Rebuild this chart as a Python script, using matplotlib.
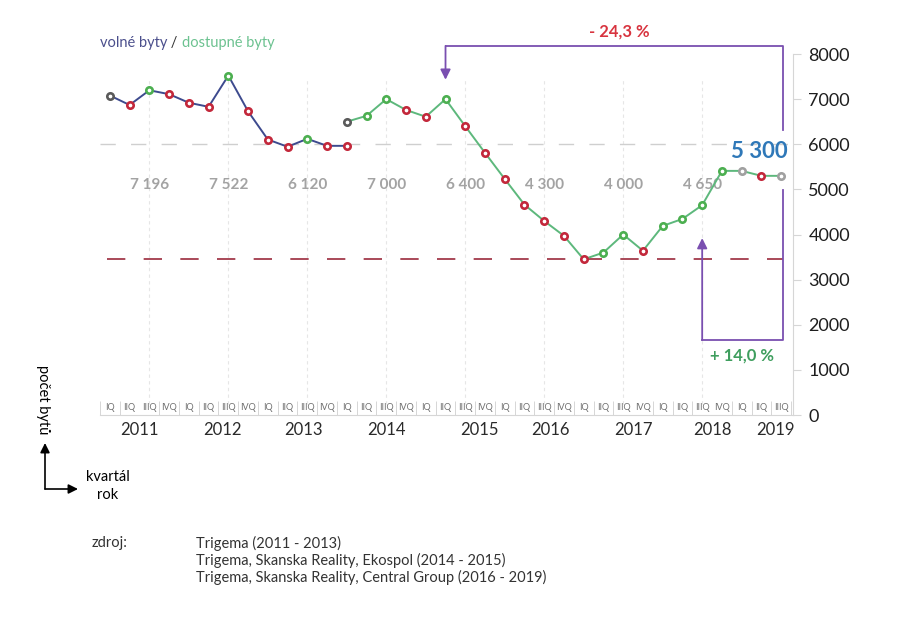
import numpy as np
import matplotlib
matplotlib.use("Agg")
import matplotlib.pyplot as plt

plt.rcParams['font.family'] = ['Lato', 'DejaVu Sans']

# data
years = ['2011', '2012', '2013', '2014', '2015', '2016', '2017', '2018', '2019']
quarters = ['IQ', 'IIQ', 'IIIQ', 'IVQ']

# volne byty, 2011 IQ - 2014 IQ
volne = [7080, 6870, 7196, 7110, 6920, 6830, 7522, 6730, 6105, 5945, 6120, 5965, 5965]
volne_marks = ['k', 'r', 'g', 'r', 'r', 'r', 'g', 'r', 'r', 'r', 'g', 'r', 'r']

# dostupne byty, 2014 IQ - 2019 IIIQ
dostupne = [6500, 6630, 7000, 6760, 6610, 7000, 6400, 5810,
            5230, 4660, 4300, 3970, 3450, 3600, 4000, 3640,
            4190, 4345, 4650, 5410, 5410, 5300, 5300]
dostupne_marks = ['k', 'g', 'g', 'r', 'r', 'g', 'r', 'r',
                  'r', 'r', 'r', 'r', 'r', 'g', 'g', 'r',
                  'g', 'g', 'g', 'g', 's', 'r', 's']

value_labels = ['7 196', '7 522', '6 120', '7 000', '6 400', '4 300', '4 000', '4 650']
last_value = '5 300'
drop_text = '- 24,3 %'
rise_text = '+ 14,0 %'
sources = ['Trigema (2011 - 2013)',
           'Trigema, Skanska Reality, Ekospol (2014 - 2015)',
           'Trigema, Skanska Reality, Central Group (2016 - 2019)']

# colours
navy = '#3d4a8e'
green_line = '#5db87c'
mark_col = {'k': '#5a5a5a', 'r': '#c3283b', 'g': '#4caf50', 's': '#a0a0a0'}
purple = '#7a4fb0'
grid_grey = '#d6d6d6'

fig = plt.figure(figsize=(9.02, 6.18), dpi=100)
W, H = 902, 618
ax = fig.add_axes([100 / W, (H - 415) / H, 693 / W, 385 / H])

n_q = len(years) * 4 - 1
x_all = np.arange(n_q)
x_v = x_all[:len(volne)]
x_d = x_all[12:12 + len(dostupne)]

ax.set_xlim(-0.4, 34.6)
ax.set_ylim(0, 8532)

# reference lines
ax.axhline(6000, color='#cfcfcf', lw=1.0, dashes=(11, 11), zorder=1)
ax.axhline(min(dostupne), color='#9b2a3c', lw=1.2, dashes=(11, 11), xmin=0.01, xmax=0.985, zorder=1)
for i in range(len(value_labels)):
    xi = 2 + 4 * i
    ax.plot([xi, xi], [250, 7450], color='#e6e6e6', lw=0.8, dashes=(3, 3), zorder=0)
    ax.text(xi, 5100, value_labels[i], ha='center', va='center', fontsize=11,
            fontweight='bold', color='#a3a3a3')

# series
ax.plot(x_v, volne, color=navy, lw=1.4, zorder=3)
ax.plot(x_d, dostupne, color=green_line, lw=1.4, zorder=3)
for xs, ys, ms in [(x_v, volne, volne_marks), (x_d, dostupne, dostupne_marks)]:
    for xx, yy, m in zip(xs, ys, ms):
        ax.plot(xx, yy, 'o', ms=4.6, mfc='white', mec=mark_col[m], mew=1.9, zorder=4)

# brackets
peak_x = 17
top_y = 8180
ax.plot([peak_x, 34.1, 34.1], [top_y, top_y, 6320], color=purple, lw=1.3, clip_on=False)
ax.annotate('', xy=(peak_x, 7430), xytext=(peak_x, top_y),
            arrowprops=dict(arrowstyle='-|>', color=purple, lw=1.3, mutation_scale=15,
                            shrinkA=0, shrinkB=0), annotation_clip=False)
low_x = 30
ax.plot([34.1, 34.1, low_x], [4990, 1660, 1660], color=purple, lw=1.3, clip_on=False)
ax.annotate('', xy=(low_x, 3920), xytext=(low_x, 1660),
            arrowprops=dict(arrowstyle='-|>', color=purple, lw=1.3, mutation_scale=15,
                            shrinkA=0, shrinkB=0))
ax.text(25.8, 8490, drop_text, ha='center', va='center', fontsize=12,
        fontweight='bold', color='#d8343f', clip_on=False)
ax.text(32.0, 1310, rise_text, ha='center', va='center', fontsize=12,
        fontweight='bold', color='#3f9e5e')
ax.text(32.9, 5830, last_value, ha='center', va='center', fontsize=16,
        fontweight='bold', color='#2f78b8')

# legend-like title
t1 = ax.text(0.0, 0.965, 'volné byty', transform=ax.transAxes, fontsize=10.5,
             color='#4b4f8c', ha='left', va='center')
t2 = ax.annotate(' / ', xy=(1, 0), xycoords=t1, va='bottom', fontsize=10.5, color='#333333')
ax.annotate('dostupné byty', xy=(1, 0), xycoords=t2, va='bottom', fontsize=10.5, color='#6cc290')

# axes styling
for s in ['top', 'left']:
    ax.spines[s].set_visible(False)
ax.spines['right'].set_color(grid_grey)
ax.spines['right'].set_bounds(0, 8000)
ax.spines['bottom'].set_color(grid_grey)
ax.yaxis.tick_right()
ax.set_yticks(np.arange(0, 8001, 1000))
ax.tick_params(axis='y', colors=grid_grey, labelcolor='#1e1e1e', labelsize=13,
               length=6, pad=5)

year_x = [1.5, 5.7, 9.8, 14.0, 18.7, 22.3, 26.5, 30.5, 33.7]
ax.set_xticks(year_x)
ax.set_xticklabels(years, fontsize=12, color='#2a2a2a')
ax.tick_params(axis='x', which='major', length=0, pad=5)
ax.set_xticks(np.arange(-0.5, n_q, 1), minor=True)
ax.tick_params(axis='x', which='minor', direction='in', length=10, color='#d0d0d0')
for i in x_all:
    ax.text(i, 175, quarters[i % 4], ha='center', va='center', fontsize=6.5,
            color='#707070')

# axis explanation bottom left
def fx(px):
    return px / W

def fy(py):
    return 1 - py / H

arrow = dict(arrowstyle='-|>', color='black', lw=1.2, mutation_scale=14, shrinkA=0, shrinkB=0)
fig.add_artist(matplotlib.patches.FancyArrowPatch((fx(45), fy(489)), (fx(45), fy(443)),
                                                  transform=fig.transFigure, **arrow))
fig.add_artist(matplotlib.patches.FancyArrowPatch((fx(45), fy(489)), (fx(78), fy(489)),
                                                  transform=fig.transFigure, **arrow))
fig.text(fx(43), fy(400), 'počet bytů', rotation=-90, ha='center', va='center', fontsize=10.5)
fig.text(fx(108), fy(477), 'kvartál', ha='center', va='center', fontsize=10.5)
fig.text(fx(108), fy(495), 'rok', ha='center', va='center', fontsize=10.5)

# sources
fig.text(fx(92), fy(543), 'zdroj:', ha='left', va='center', fontsize=10.5, color='#333333')
for i, s in enumerate(sources):
    fig.text(fx(196), fy(543 + 17 * i), s, ha='left', va='center', fontsize=10.5, color='#333333')

fig.savefig('out.png', dpi=100)
